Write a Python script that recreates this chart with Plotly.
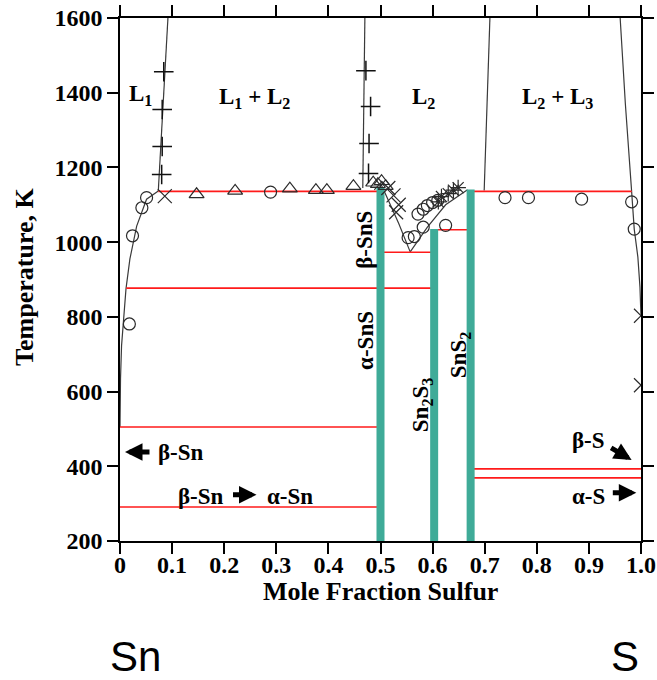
import plotly.graph_objects as go

# ---------------- data ----------------
x_ticks = [0, 0.1, 0.2, 0.3, 0.4, 0.5, 0.6, 0.7, 0.8, 0.9, 1.0]
x_ticktext = ["0", "0.1", "0.2", "0.3", "0.4", "0.5", "0.6", "0.7", "0.8", "0.9", "1.0"]
y_ticks = [200, 400, 600, 800, 1000, 1200, 1400, 1600]

# phase-boundary curves
left_liq_x = [0.0, 0.0, 0.001, 0.003, 0.0064, 0.0115, 0.019, 0.032, 0.051, 0.0735]
left_liq_T = [505, 560, 635, 723, 795, 875, 955, 1043, 1115, 1137]
gap1_left_x = [0.0735, 0.082, 0.092]
gap1_left_T = [1137, 1350, 1600]
gap1_right_x = [0.466, 0.468, 0.470]
gap1_right_T = [1145, 1350, 1600]
v_liq_x = [0.488, 0.500, 0.515, 0.535, 0.557, 0.590, 0.625, 0.667]
v_liq_T = [1140, 1158, 1112, 1050, 974, 1040, 1100, 1140]
gap2_left_x = [0.699, 0.705, 0.710]
gap2_left_T = [1138, 1370, 1600]
gap2_right_x = [0.982, 0.970, 0.960]
gap2_right_T = [1136, 1370, 1600]
right_liq_x = [0.982, 0.987, 0.994, 0.998, 1.0]
right_liq_T = [1136, 1035, 960, 880, 800]

# invariant (red) lines
iso_T = [1136, 1136, 1033, 973, 877, 505, 291, 393, 369]
iso_x0 = [0.0735, 0.670, 0.603, 0.500, 0.012, 0.0, 0.0, 0.673, 0.673]
iso_x1 = [0.500, 0.982, 0.673, 0.603, 0.603, 0.500, 0.500, 1.0, 1.0]

# compounds (teal bars)
comp_x = [0.500, 0.603, 0.673]
comp_top = [1145, 1035, 1141]

# experimental points
circ_x = [0.018, 0.024, 0.042, 0.051, 0.289, 0.553, 0.565, 0.572, 0.582, 0.590,
          0.600, 0.582, 0.625, 0.610, 0.739, 0.784, 0.886, 0.982, 0.987]
circ_T = [781, 1017, 1092, 1119, 1134, 1012, 1015, 1075, 1088, 1098,
          1106, 1040, 1045, 1112, 1119, 1119, 1115, 1108, 1035]
tri_x = [0.147, 0.221, 0.326, 0.376, 0.397, 0.448, 0.486, 0.495, 0.502, 0.510]
tri_T = [1128, 1137, 1143, 1139, 1139, 1150, 1159, 1155, 1163, 1150]
cross_x = [0.086, 0.515, 0.525, 0.535, 0.530, 1.0, 1.0]
cross_T = [1123, 1145, 1125, 1100, 1080, 803, 617]
ast_x = [0.611, 0.617, 0.630, 0.640, 0.649]
ast_T = [1108, 1122, 1130, 1139, 1146]
plus_x = [0.084, 0.081, 0.081, 0.080, 0.472, 0.481, 0.478, 0.477]
plus_T = [1456, 1355, 1256, 1181, 1459, 1363, 1264, 1184]

# ---------------- figure ----------------
SERIF = "Liberation Serif"
fig = go.Figure()

curve_style = dict(color="#3a3a3a", width=1.2)
for cx, cy in [(left_liq_x, left_liq_T), (gap1_left_x, gap1_left_T),
               (gap1_right_x, gap1_right_T), (v_liq_x, v_liq_T),
               (gap2_left_x, gap2_left_T), (gap2_right_x, gap2_right_T),
               (right_liq_x, right_liq_T)]:
    fig.add_trace(go.Scatter(x=cx, y=cy, mode="lines", line=curve_style,
                             showlegend=False, hoverinfo="skip"))

for t, a, b in zip(iso_T, iso_x0, iso_x1):
    fig.add_trace(go.Scatter(x=[a, b], y=[t, t], mode="lines",
                             line=dict(color="#ff1a1a", width=1.6),
                             showlegend=False, hoverinfo="skip"))

for cx, top in zip(comp_x, comp_top):
    fig.add_trace(go.Scatter(x=[cx, cx], y=[200, top], mode="lines",
                             line=dict(color="#3fab98", width=8),
                             showlegend=False, hoverinfo="skip"))

mk_line = dict(color="#2a2a2a", width=1.2)
fig.add_trace(go.Scatter(x=circ_x, y=circ_T, mode="markers", showlegend=False,
                         marker=dict(symbol="circle-open", size=12, line=mk_line, color="#2a2a2a")))
fig.add_trace(go.Scatter(x=tri_x, y=tri_T, mode="markers", showlegend=False,
                         marker=dict(symbol="triangle-up-open", size=13, line=mk_line, color="#2a2a2a")))
fig.add_trace(go.Scatter(x=cross_x, y=cross_T, mode="markers", showlegend=False,
                         marker=dict(symbol="x-thin-open", size=14, line=mk_line, color="#2a2a2a")))
fig.add_trace(go.Scatter(x=ast_x, y=ast_T, mode="markers", showlegend=False,
                         marker=dict(symbol="asterisk-open", size=13, line=mk_line, color="#2a2a2a")))
fig.add_trace(go.Scatter(x=plus_x, y=plus_T, mode="markers", showlegend=False,
                         marker=dict(symbol="cross-thin-open", size=14, line=dict(color="#111", width=1.5), color="#111")))

lab_font = dict(family=SERIF, size=23, color="black", weight="bold")
ann = []
def txt(x, y, s, angle=0, **kw):
    d = dict(x=x, y=y, xref="x", yref="y", text=s, showarrow=False,
             font=lab_font, textangle=angle)
    d.update(kw)
    ann.append(d)

txt(0.040, 1394, "L<sub>1</sub>")
txt(0.259, 1385, "L<sub>1</sub> + L<sub>2</sub>")
txt(0.582, 1385, "L<sub>2</sub>")
txt(0.839, 1385, "L<sub>2</sub> + L<sub>3</sub>")
txt(0.470, 1006, "β-SnS", -90)
txt(0.470, 738, "α-SnS", -90)
txt(0.580, 564, "Sn<sub>2</sub>S<sub>3</sub>", -90)
txt(0.653, 698, "SnS<sub>2</sub>", -90)
txt(0.069, 438, "β-Sn", xanchor="left")
txt(0.204, 318, "β-Sn", xanchor="right")
txt(0.278, 318, "α-Sn", xanchor="left")
txt(0.934, 470, "β-S", xanchor="right")
txt(0.934, 319, "α-S", xanchor="right")

def arrow(x, y, ax, ay):
    ann.append(dict(x=x, y=y, xref="x", yref="y", ax=ax, ay=ay, text="",
                    showarrow=True, arrowhead=2, arrowsize=0.7, arrowwidth=5,
                    arrowcolor="black"))

arrow(0.0096, 438, 26, 0)
arrow(0.262, 324, -25, 0)
arrow(0.982, 417, -22, -13)
arrow(0.991, 329, -25, 0)

# axis titles and element labels
ann.append(dict(x=0.5, y=0, xref="paper", yref="paper", yshift=-50, yanchor="middle",
                text="Mole Fraction Sulfur", showarrow=False,
                font=dict(family=SERIF, size=26, color="black", weight="bold")))
ann.append(dict(x=0, y=0.505, xref="paper", yref="paper", xshift=-95, xanchor="center",
                text="Temperature, K", showarrow=False, textangle=-90,
                font=dict(family=SERIF, size=26, color="black", weight="bold")))
ann.append(dict(x=-0.023, y=0, xref="paper", yref="paper", yshift=-115, yanchor="middle",
                text="Sn", showarrow=False,
                font=dict(family="Liberation Sans", size=42, color="black")))
ann.append(dict(x=1.0, y=0, xref="paper", yref="paper", yshift=-115, yanchor="middle",
                text="S", showarrow=False,
                font=dict(family="Liberation Sans", size=42, color="black")))

axis_common = dict(showgrid=False, zeroline=False, showline=True, linecolor="black",
                   linewidth=1.5, mirror="allticks", ticks="outside", ticklen=11,
                   tickwidth=1.5, tickcolor="black", automargin=False,
                   ticklabeloverflow="allow",
                   tickfont=dict(family=SERIF, size=24, color="black", weight="bold"))

fig.update_layout(
    width=657, height=680,
    margin=dict(l=120, r=16, t=18, b=139, autoexpand=False),
    paper_bgcolor="white", plot_bgcolor="white",
    showlegend=False,
    xaxis=dict(range=[0, 1.0], tickvals=x_ticks, ticktext=x_ticktext,
               ticklabelstandoff=-10, **axis_common),
    yaxis=dict(range=[200, 1600], tickvals=y_ticks, **axis_common),
    annotations=ann,
)

# remove the browser's default 8 px body margin so the figure sits at the page origin
fig.write_html("out.html", config={"displayModeBar": False},
               post_script="document.body.style.margin='0';document.body.style.overflow='hidden';")
